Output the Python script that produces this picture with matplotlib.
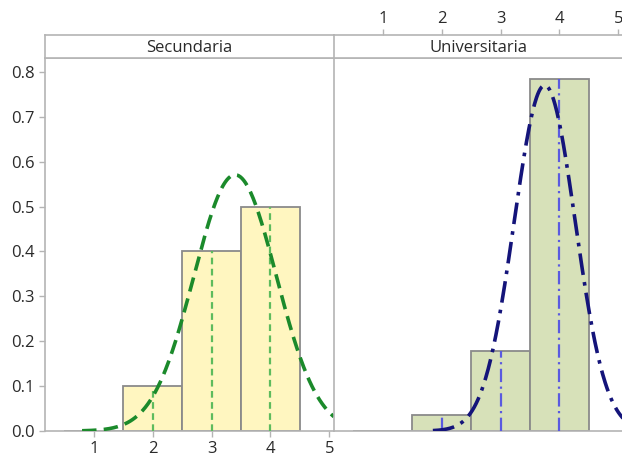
import numpy as np
import matplotlib.pyplot as plt

plt.rcParams['font.family'] = ['Open Sans', 'DejaVu Sans']

# bin centres and relative frequencies for each group
bins = [1, 2, 3, 4]
sec_freq = [0.0, 0.1, 0.4, 0.5]
uni_freq = [0.0, 0.036, 0.179, 0.785]

# fitted normal curves (mean, sd)
sec_mean, sec_sd = 3.4, 0.699
uni_mean, uni_sd = 3.75, 0.518

panels = ["Secundaria", "Universitaria"]
xticks = [1, 2, 3, 4, 5]
yticks = [0.0, 0.1, 0.2, 0.3, 0.4, 0.5, 0.6, 0.7, 0.8]

W, H = 622, 457
fig = plt.figure(figsize=(W / 100, H / 100), dpi=100)

frame = '#b4b4b4'
txt = '#2a2a2a'
fs = 12


def px(x0, y0, x1, y1):
    return [x0 / W, 1 - y1 / H, (x1 - x0) / W, (y1 - y0) / H]


xlim = (0.17, 5.08)
ylim = (0, 0.831)

ax1 = fig.add_axes(px(45, 58, 334, 431))
ax2 = fig.add_axes(px(334, 58, 623, 431))
st1 = fig.add_axes(px(45, 35, 334, 58))
st2 = fig.add_axes(px(334, 35, 623, 58))

styles = [
    dict(freq=sec_freq, mean=sec_mean, sd=sec_sd, fill='#fff6c0',
         curve='#1b8a2b', cls=(0, (4, 2)), ref='#5dbb5d', rls=(0, (3, 2)),
         x0=0.8),
    dict(freq=uni_freq, mean=uni_mean, sd=uni_sd, fill='#d7e1b9',
         curve='#14147a', cls=(0, (6, 2, 1, 2)), ref='#5a5ae0',
         rls=(0, (6, 2, 1, 2)), x0=1.85),
]

for ax, s in zip([ax1, ax2], styles):
    ax.bar(bins, s['freq'], width=1.0, color=s['fill'], edgecolor='#8a8a8a',
           linewidth=1.3, zorder=2)
    for b, f in zip(bins, s['freq']):
        if f > 0:
            ax.plot([b, b], [0, f], color=s['ref'], linestyle=s['rls'],
                    linewidth=1.6, zorder=3)
    xs = np.linspace(s['x0'], xlim[1], 300)
    ys = np.exp(-0.5 * ((xs - s['mean']) / s['sd']) ** 2) / (s['sd'] * np.sqrt(2 * np.pi))
    ax.plot(xs, ys, color=s['curve'], linestyle=s['cls'], linewidth=2.6,
            zorder=4, clip_on=True)
    ax.set_xlim(*xlim)
    ax.set_ylim(*ylim)
    for sp in ax.spines.values():
        sp.set_color(frame)
        sp.set_linewidth(1.2)
    ax.tick_params(colors=frame, labelcolor=txt, labelsize=fs, length=4,
                   width=1)

ax1.spines['right'].set_visible(False)
ax1.set_xticks(xticks)
ax1.set_yticks(yticks)
ax1.set_yticklabels([f"{v:.1f}" for v in yticks])
ax2.set_xticks([])
ax2.set_yticks([])

for st, name in zip([st1, st2], panels):
    st.set_xlim(*xlim)
    st.set_yticks([])
    st.text(0.5, 0.42, name, transform=st.transAxes, ha='center',
            va='center', fontsize=fs, color=txt)
    for sp in st.spines.values():
        sp.set_color(frame)
        sp.set_linewidth(1.2)

st1.spines['right'].set_visible(False)
st1.set_xticks([])
st2.set_xticks(xticks)
st2.xaxis.tick_top()
st2.tick_params(colors=frame, labelcolor=txt, labelsize=fs, length=4,
                width=1, pad=2)

fig.savefig("out.png", dpi=100)
